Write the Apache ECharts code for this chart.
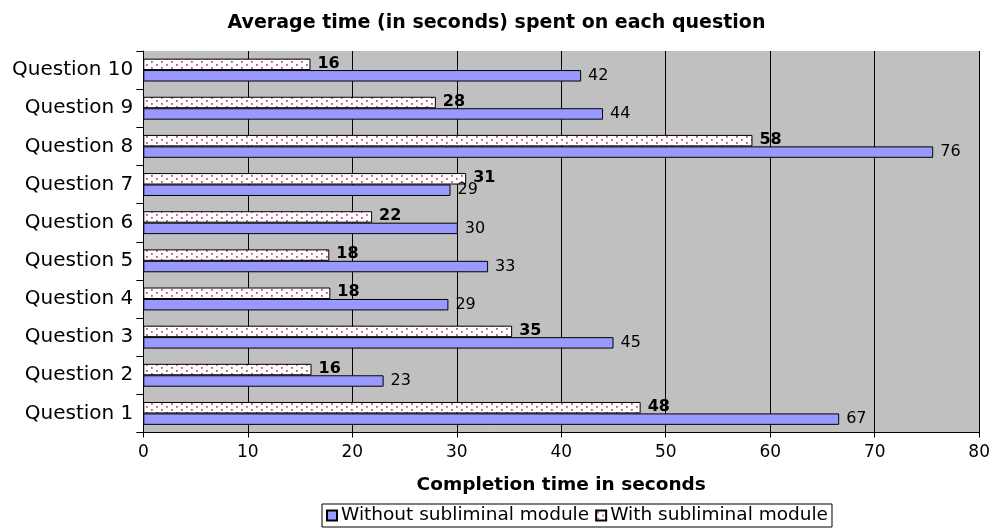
<!DOCTYPE html>
<html>
<head>
<meta charset="utf-8">
<script src="https://cdn.jsdelivr.net/npm/echarts@6/dist/echarts.min.js"></script>
<style>html,body{margin:0;padding:0;background:#fff}#c{width:993px;height:529px}</style>
</head>
<body>
<div id="c"></div>
<script>
const categories = ['Question 1','Question 2','Question 3','Question 4','Question 5','Question 6','Question 7','Question 8','Question 9','Question 10'];
const withoutModule = [66.6, 23.0, 45.0, 29.2, 33.0, 30.1, 29.4, 75.6, 44.0, 41.9];
const withModule = [47.6, 16.1, 35.3, 17.9, 17.8, 21.9, 30.9, 58.3, 28.0, 16.0];
const xTicks = [0,10,20,30,40,50,60,70,80];

function makePattern(){
  const c = document.createElement('canvas');
  c.width = 10; c.height = 6;
  const g = c.getContext('2d');
  g.fillStyle = '#ffffff'; g.fillRect(0,0,10,6);
  g.fillStyle = '#c05585';
  g.fillRect(1,1,1.8,1.8);
  g.fillRect(6,4,1.8,1.8);
  return c;
}
const pattern = {image: makePattern(), repeat: 'repeat'};

const chart = echarts.init(document.getElementById('c'));
const font = 'DejaVu Sans, Liberation Sans, Arial, sans-serif';
chart.setOption({
  animation: false,
  textStyle: {fontFamily: font},
  title: {
    text: 'Average time (in seconds) spent on each question',
    left: 'center', top: 9,
    textStyle: {fontSize: 19, fontWeight: 'bold', color: '#000', fontFamily: font}
  },
  legend: {
    data: ['Without subliminal module','With subliminal module'],
    bottom: 2, left: 322,
    icon: 'rect',
    itemWidth: 10, itemHeight: 10, itemGap: 6,
    borderColor: '#000', borderWidth: 1, padding: [2,4,2,4],
    textStyle: {fontSize: 18.5, color: '#000', fontFamily: font, padding: [0,0,0,-1]}
  },
  grid: {left: 143.3, right: 13.5, top: 51, bottom: 96.5, show: true, backgroundColor: '#c0c0c0', borderWidth: 0},
  xAxis: {
    type: 'value', min: 0, max: 80, interval: 10,
    name: 'Completion time in seconds', nameLocation: 'middle', nameGap: 43,
    nameTextStyle: {fontSize: 18.5, fontWeight: 'bold', color: '#000', fontFamily: font},
    axisLine: {show: true, lineStyle: {color: '#000'}},
    axisTick: {show: true, length: 5, lineStyle: {color: '#000'}},
    axisLabel: {fontSize: 17, color: '#000', margin: 12, fontFamily: font, formatter: v => xTicks.includes(v) ? String(v) : ''},
    splitLine: {show: true, lineStyle: {color: '#000', width: 1}}
  },
  yAxis: {
    type: 'category', data: categories,
    axisLine: {show: true, lineStyle: {color: '#000'}},
    axisTick: {show: true, length: 7, lineStyle: {color: '#000'}},
    axisLabel: {fontSize: 20, color: '#000', margin: 10, fontFamily: font}
  },
  series: [
    {
      name: 'With subliminal module', type: 'bar', data: withModule,
      barGap: '0%', barCategoryGap: '40%',
      itemStyle: {color: pattern, borderColor: '#000', borderWidth: 1},
      label: {show: true, position: 'right', distance: 7, fontSize: 16, fontWeight: 'bold', color: '#000', fontFamily: font,
              offset: [0, -1], formatter: p => Math.round(p.value)}
    },
    {
      name: 'Without subliminal module', type: 'bar', data: withoutModule,
      barGap: '0%', barCategoryGap: '40%',
      itemStyle: {color: '#9999ff', borderColor: '#000', borderWidth: 1},
      label: {show: true, position: 'right', distance: 7, fontSize: 16, color: '#000', fontFamily: font,
              formatter: p => Math.round(p.value)}
    }
  ]
});
</script>
</body>
</html>
